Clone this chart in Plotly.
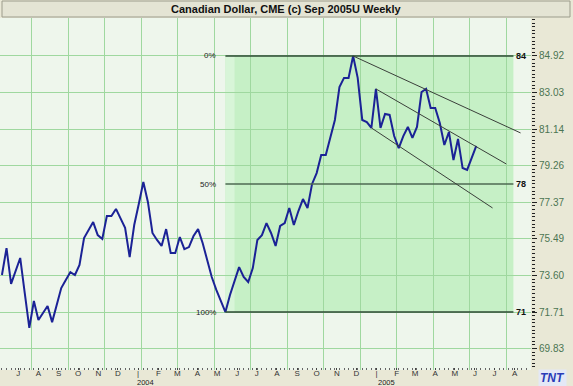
import pandas as pd
import plotly.graph_objects as go

# ---------------- data ----------------
week_start = "2003-06-06"
price = [73.62, 75.01, 73.16, 73.83, 74.50, 72.69, 70.89, 72.28, 71.30, 71.66,
         72.02, 71.19, 72.07, 72.95, 73.36, 73.77, 73.62, 74.14, 75.53, 75.94,
         76.35, 75.68, 75.48, 76.66, 76.66, 77.03, 76.56, 76.05, 74.55, 76.20,
         77.28, 78.42, 77.39, 75.79, 75.43, 75.12, 75.99, 74.76, 74.76, 75.58,
         74.96, 75.06, 75.63, 75.99, 75.27, 74.39, 73.52, 72.85, 72.23, 71.71,
         72.59, 73.31, 74.03, 73.52, 73.26, 73.98, 75.43, 75.68, 76.30, 75.79,
         75.12, 76.15, 76.30, 77.08, 76.20, 76.92, 77.54, 77.08, 78.32, 78.88,
         79.81, 79.81, 80.69, 81.62, 83.32, 83.79, 83.79, 84.92, 83.79, 81.62,
         81.51, 81.21, 83.22, 81.21, 81.93, 81.88, 80.79, 80.17, 80.79, 81.26,
         80.69, 81.26, 83.06, 83.22, 82.24, 82.24, 81.46, 80.33, 81.00, 79.55,
         80.64, 79.14, 79.04, 79.66, 80.28]
dates = pd.date_range(week_start, periods=len(price), freq="7D")

price_ticks = [69.83, 71.71, 73.60, 75.49, 77.37, 79.26, 81.14, 83.03, 84.92]
price_labels = ["69.83", "71.71", "73.60", "75.49", "77.37", "79.26", "81.14", "83.03", "84.92"]

month_ticks = pd.date_range("2003-07-01", "2005-08-01", freq="MS")
month_labels = ["J", "A", "S", "O", "N", "D",
                "|", "F", "M", "A", "M", "J", "J", "A", "S", "O", "N", "D",
                "|", "F", "M", "A", "M", "J", "J", "A"]
year_labels = ["2004", "2005"]
year_pos = ["2004-01-13", "2005-01-16"]

# Fibonacci retracement (low -> high)
fib_start = "2004-05-14"
fib_end = "2005-07-30"
fib_pct = ["0%", "50%", "100%"]
fib_price = [84.92, 78.315, 71.71]
fib_right = ["84", "78", "71"]

# channel trend lines: (start date, start price, end date, end price)
chan_x0 = ["2004-11-26", "2004-12-31", "2004-12-24"]
chan_y0 = [84.92, 83.22, 81.21]
chan_x1 = ["2005-08-10", "2005-07-19", "2005-06-28"]
chan_y1 = [80.95, 79.35, 77.08]

x_range = ["2003-06-03", "2005-08-26"]
y_range = [68.72, 86.88]
grid_dates = pd.date_range("2003-07-22", "2005-08-26", freq="56D")

# ---------------- figure ----------------
W, H = 573, 386
ML, MR, MT, MB = 0, 42, 18, 16
PW, PH = W - ML - MR, H - MT - MB
FONT = "Liberation Sans, Arial"

fig = go.Figure()
fig.add_trace(go.Scatter(x=dates, y=price, mode="lines",
                         line=dict(color="#1b2296", width=2),
                         hoverinfo="skip", showlegend=False))
fig.add_trace(go.Scatter(x=[], y=[], xaxis="x2", showlegend=False, hoverinfo="skip"))

shapes = []
# shaded retracement zone
shapes.append(dict(type="rect", xref="x", yref="y", x0=fib_start, x1=fib_end,
                   y0=fib_price[2], y1=fib_price[0], fillcolor="#c6f0c6",
                   line=dict(width=0), layer="below"))
shapes.append(dict(type="rect", xref="x", yref="y", x0=fib_start, x1="2004-05-28",
                   y0=fib_price[2], y1=fib_price[0], fillcolor="#d8f5d8",
                   line=dict(width=0), layer="below"))
for p, c in zip(fib_price, ["#2e4a34", "#4e6a52", "#2e4a34"]):
    shapes.append(dict(type="line", xref="x", yref="y", x0=fib_start, x1=fib_end,
                       y0=p, y1=p, line=dict(color=c, width=1.4)))
for a, b, c, d in zip(chan_x0, chan_y0, chan_x1, chan_y1):
    shapes.append(dict(type="line", xref="x", yref="y", x0=a, y0=b, x1=c, y1=d,
                       line=dict(color="#3a3f3a", width=1)))
# title bar
shapes.append(dict(type="rect", xref="paper", yref="paper",
                   x0=2 / PW, x1=570 / PW, y0=1 + 1 / PH, y1=1 + 17 / PH,
                   fillcolor="#e4e4d4", line=dict(color="#9c9c8c", width=1)))

ann = []
ann.append(dict(xref="paper", yref="paper", x=286 / PW, y=1 + 9 / PH,
                text="<b>Canadian Dollar, CME (c) Sep 2005U Weekly</b>",
                showarrow=False, font=dict(family=FONT, size=11, color="#111"),
                xanchor="center", yanchor="middle"))
for t, p in zip(fib_pct, fib_price):
    ann.append(dict(xref="x", yref="y", x=fib_start, y=p, text=t, showarrow=False,
                    xanchor="right", yanchor="middle", xshift=-7,
                    font=dict(family=FONT, size=8, color="#222")))
for t, p in zip(fib_right, fib_price):
    ann.append(dict(xref="paper", yref="y", x=1, y=p, text="<b>" + t + "</b>", showarrow=False,
                    xanchor="right", yanchor="middle", xshift=-3,
                    font=dict(family=FONT, size=9, color="#111")))
for t, d in zip(year_labels, year_pos):
    ann.append(dict(xref="x", yref="paper", x=d, y=-12.5 / PH, text=t, showarrow=False,
                    xanchor="center", yanchor="middle",
                    font=dict(family=FONT, size=7.5, color="#222")))
ann.append(dict(xref="paper", yref="paper", x=552 / PW, y=-8 / PH,
                text="<b><i>TNT</i></b>", showarrow=False, xanchor="center", yanchor="middle",
                bgcolor="#e4e8f6", borderpad=1,
                font=dict(family=FONT, size=12, color="#2a3cb8")))

fig.update_layout(
    width=W, height=H,
    margin=dict(l=ML, r=MR, t=MT, b=MB, pad=0),
    paper_bgcolor="#e9e8d6",
    plot_bgcolor="#eef6ec",
    shapes=shapes, annotations=ann,
    xaxis=dict(type="date", range=x_range, tickmode="array",
               tickvals=list(month_ticks), ticktext=month_labels,
               ticks="inside", ticklen=2, tickcolor="#444", showgrid=False,
               zeroline=False, showline=False, ticklabelstandoff=-3,
               tickfont=dict(family=FONT, size=8, color="#333"),
               minor=dict(dtick=7 * 86400000, tick0=week_start, ticks="inside",
                          ticklen=2, tickcolor="#666", showgrid=False),
               fixedrange=True),
    xaxis2=dict(type="date", range=x_range, overlaying="x", tickmode="array",
                tickvals=list(grid_dates), showticklabels=False, ticks="",
                showgrid=True, gridcolor="#9fd89f", gridwidth=1, zeroline=False,
                showline=False, fixedrange=True),
    yaxis=dict(side="right", range=y_range, tickmode="array",
               tickvals=price_ticks, ticktext=price_labels,
               ticks="outside", ticklen=5, tickcolor="#222",
               showgrid=True, gridcolor="#9fd89f", gridwidth=1,
               zeroline=False, showline=False,
               tickfont=dict(family=FONT, size=10, color="#4b7552"),
               minor=dict(tickmode="linear", tick0=69.83, dtick=0.18867, ticks="outside",
                          ticklen=3, tickcolor="#222", showgrid=False),
               fixedrange=True),
)

fig.write_html("out.html", config={"displayModeBar": False},
               post_script="document.body.style.margin='0';document.body.style.overflow='hidden';")
